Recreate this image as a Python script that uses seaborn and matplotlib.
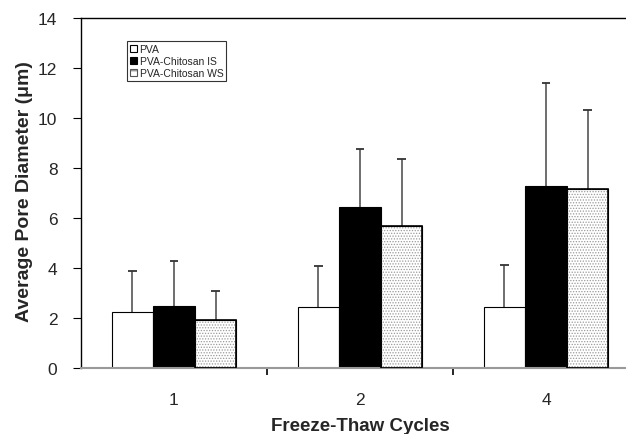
import matplotlib
matplotlib.use("Agg")
import matplotlib.pyplot as plt
import seaborn as sns
import pandas as pd
import numpy as np
from matplotlib.patches import Patch

cycles = ["1", "2", "4"]
groups = ["PVA", "PVA-Chitosan IS", "PVA-Chitosan WS"]
pva_mean = [2.24, 2.45, 2.46]
pva_err = [1.64, 1.62, 1.65]
is_mean = [2.49, 6.46, 7.27]
is_err = [1.81, 2.32, 4.14]
ws_mean = [1.91, 5.70, 7.15]
ws_err = [1.17, 2.66, 3.18]

df = pd.DataFrame({
    "cycle": cycles * 3,
    "group": [groups[0]] * 3 + [groups[1]] * 3 + [groups[2]] * 3,
    "mean": pva_mean + is_mean + ws_mean,
    "err": pva_err + is_err + ws_err,
})

sns.set_style("white")
plt.rcParams["font.family"] = ["Liberation Sans", "DejaVu Sans"]
plt.rcParams["hatch.linewidth"] = 0.6

fig = plt.figure(figsize=(6.26, 4.35), dpi=100)
ax = fig.add_axes([81 / 626, (435 - 369) / 435, 558 / 626, 350 / 435])

palette = {groups[0]: "white", groups[1]: "black", groups[2]: "white"}
sns.barplot(data=df, x="cycle", y="mean", hue="group", order=cycles,
            hue_order=groups, palette=palette, width=0.67, errorbar=None,
            edgecolor="black", linewidth=0.8, legend=False, ax=ax, zorder=2)

bars = [p for p in ax.patches]
cap_half = 0.022
k = 0
for g in groups:
    sub = df[df.group == g].set_index("cycle").loc[cycles]
    for c in cycles:
        p = bars[k]
        k += 1
        xc = p.get_x() + p.get_width() / 2
        h = p.get_height()
        e = sub.loc[c, "err"]
        ax.vlines(xc, h, h + e, color="#555555", linewidth=1.2, zorder=1)
        ax.hlines(h + e, xc - cap_half, xc + cap_half, color="#333333",
                  linewidth=1.3, zorder=1)
        if g == groups[2]:
            ax.bar(xc, h, width=p.get_width(), color="none", hatch="......",
                   edgecolor="#9a9a9a", linewidth=0, zorder=2.5)
            ax.bar(xc, h, width=p.get_width(), color="none",
                   edgecolor="black", linewidth=1.2, zorder=3)

ax.set_xlim(-0.5, 2.5)
ax.set_ylim(0, 14)
ax.set_yticks(np.arange(0, 15, 2))
ax.set_xticks([0, 1, 2])
ax.set_xticklabels(cycles)
ax.set_xticks([0.5, 1.5], minor=True)
ax.tick_params(axis="x", which="major", length=0, labelsize=12.5, pad=17)
ax.tick_params(axis="x", which="minor", length=5, width=1.2, color="black",
               direction="out", bottom=True)
ax.tick_params(axis="y", length=6, width=0.8, color="black", direction="out",
               left=True, labelsize=12.5, pad=11)

for s in ["left", "top", "right"]:
    ax.spines[s].set_color("black")
    ax.spines[s].set_linewidth(1.0)
ax.spines["bottom"].set_color("#999999")
ax.spines["bottom"].set_linewidth(1.5)

ax.set_xlabel("Freeze-Thaw Cycles", fontsize=13.5, fontweight="bold")
ax.xaxis.set_label_coords(0.5, (369 - 418) / 350)
ax.set_ylabel("Average Pore Diameter (\u03bcm)", fontsize=14,
              fontweight="bold")
ax.yaxis.set_label_coords((33 - 81) / 558, (369 - 192) / 350)

handles = [
    Patch(facecolor="white", edgecolor="black", linewidth=0.8),
    Patch(facecolor="black", edgecolor="black", linewidth=0.8),
    Patch(facecolor="white", edgecolor="#555555", hatch="++", linewidth=0.8),
]
leg = ax.legend(handles, groups, loc="upper left",
                bbox_to_anchor=((127 - 81) / 558, (369 - 42) / 350),
                frameon=True, fancybox=False, edgecolor="black",
                fontsize=7.5, handlelength=0.7, handleheight=0.7,
                handletextpad=0.2, borderpad=0.3, labelspacing=0.2,
                borderaxespad=0)
leg.get_frame().set_linewidth(0.8)

fig.savefig("out.png", dpi=100)
